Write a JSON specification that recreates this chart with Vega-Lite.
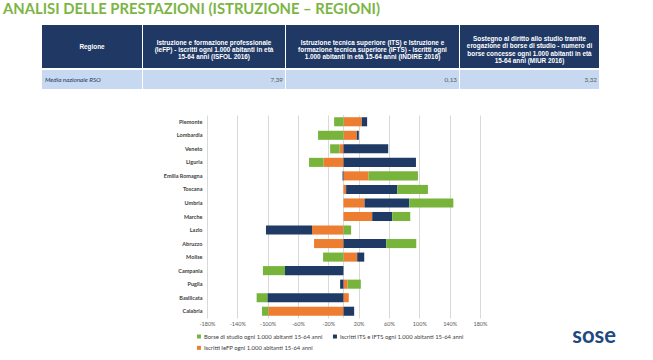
{
  "$schema": "https://vega.github.io/schema/vega-lite/v6.json",
  "background": "white",
  "padding": {"left": 3, "top": 2, "right": 0, "bottom": 0},
  "title": {"text": "ANALISI DELLE PRESTAZIONI (ISTRUZIONE – REGIONI)", "anchor": "start", "font": "Lato", "fontSize": 14.8, "fontWeight": "bold", "color": "#7cb544", "offset": 8},
  "config": {"view": {"stroke": null}, "font": "Lato", "concat": {"spacing": 1}},
  "spacing": 25,
  "vconcat": [
    {
      "spacing": 2,
      "vconcat": [
        {
          "spacing": 1,
          "hconcat": [
            {"width": 38, "height": 43, "data": {"values": []}, "mark": "point"},
            {"width": 100, "height": 43, "view": {"fill": "#1f3864", "stroke": null}, "data": {"values": [{"t": "Regione"}]}, "mark": {"type": "text", "font": "Liberation Sans", "color": "white", "fontWeight": "bold", "fontSize": 6.4, "baseline": "top", "dy": -3}, "encoding": {"text": {"field": "t"}}},
            {"width": 142, "height": 43, "view": {"fill": "#1f3864", "stroke": null}, "data": {"values": [{"t": "Istruzione e formazione professionale\n(IeFP) - iscritti ogni 1.000 abitanti in età\n15-64 anni (ISFOL 2016)"}]}, "mark": {"type": "text", "font": "Liberation Sans", "color": "white", "fontWeight": "bold", "fontSize": 6.4, "lineBreak": "\n", "lineHeight": 7.25, "baseline": "top", "dy": -6.8}, "encoding": {"text": {"field": "t"}}},
            {"width": 173, "height": 43, "view": {"fill": "#1f3864", "stroke": null}, "data": {"values": [{"t": "Istruzione tecnica superiore (ITS) e Istruzione e\nformazione tecnica superiore (IFTS) - iscritti ogni\n1.000 abitanti in età 15-64 anni (INDIRE 2016)"}]}, "mark": {"type": "text", "font": "Liberation Sans", "color": "white", "fontWeight": "bold", "fontSize": 6.4, "lineBreak": "\n", "lineHeight": 7.25, "baseline": "top", "dy": -6.8}, "encoding": {"text": {"field": "t"}}},
            {"width": 139, "height": 43, "view": {"fill": "#1f3864", "stroke": null}, "data": {"values": [{"t": "Sostegno al diritto allo studio tramite\nerogazione di borse di studio - numero di\nborse concesse ogni 1.000 abitanti in età\n15-64 anni (MIUR 2016)"}]}, "mark": {"type": "text", "font": "Liberation Sans", "color": "white", "fontWeight": "bold", "fontSize": 6.4, "lineBreak": "\n", "lineHeight": 7.25, "baseline": "top", "dy": -10.4}, "encoding": {"text": {"field": "t"}}}
          ]
        },
        {
          "spacing": 1,
          "hconcat": [
            {"width": 38, "height": 19, "data": {"values": []}, "mark": "point"},
            {"width": 100, "height": 19, "view": {"fill": "#c6d9f0", "stroke": null}, "data": {"values": [{"t": "Media nazionale RSO"}]}, "mark": {"type": "text", "color": "#1f3864", "fontStyle": "italic", "fontSize": 6.3, "align": "left", "x": 0, "dx": 3}, "encoding": {"text": {"field": "t"}}},
            {"width": 142, "height": 19, "view": {"fill": "#c6d9f0", "stroke": null}, "data": {"values": [{"t": "7,39"}]}, "mark": {"type": "text", "color": "#595959", "fontSize": 6.3, "align": "right", "x": "width", "dx": -2}, "encoding": {"text": {"field": "t"}}},
            {"width": 173, "height": 19, "view": {"fill": "#c6d9f0", "stroke": null}, "data": {"values": [{"t": "0,13"}]}, "mark": {"type": "text", "color": "#595959", "fontSize": 6.3, "align": "right", "x": "width", "dx": -2}, "encoding": {"text": {"field": "t"}}},
            {"width": 139, "height": 19, "view": {"fill": "#c6d9f0", "stroke": null}, "data": {"values": [{"t": "3,32"}]}, "mark": {"type": "text", "color": "#595959", "fontSize": 6.3, "align": "right", "x": "width", "dx": -2}, "encoding": {"text": {"field": "t"}}}
          ]
        }
      ]
    },
    {
      "width": 607,
      "height": 203,
      "title": {"text": "sose", "orient": "bottom", "anchor": "end", "font": "Lato", "fontSize": 22, "fontWeight": "bold", "color": "#1f4a7f", "offset": -1, "dx": 6},
      "data": {"values": [
        {"region": "Piemonte", "serie": "Iscritti IeFP ogni 1.000 abitanti 15-64 anni", "ord": 1, "value": 24.2},
        {"region": "Piemonte", "serie": "Iscritti ITS e IFTS ogni 1.000 abitanti 15-64 anni", "ord": 2, "value": 7.0},
        {"region": "Piemonte", "serie": "Borse di studio ogni 1.000 abitanti 15-64 anni", "ord": 3, "value": -12.3},
        {"region": "Lombardia", "serie": "Iscritti IeFP ogni 1.000 abitanti 15-64 anni", "ord": 1, "value": 17.6},
        {"region": "Lombardia", "serie": "Iscritti ITS e IFTS ogni 1.000 abitanti 15-64 anni", "ord": 2, "value": 2.6},
        {"region": "Lombardia", "serie": "Borse di studio ogni 1.000 abitanti 15-64 anni", "ord": 3, "value": -33.5},
        {"region": "Veneto", "serie": "Iscritti IeFP ogni 1.000 abitanti 15-64 anni", "ord": 1, "value": -5.3},
        {"region": "Veneto", "serie": "Iscritti ITS e IFTS ogni 1.000 abitanti 15-64 anni", "ord": 2, "value": 59.0},
        {"region": "Veneto", "serie": "Borse di studio ogni 1.000 abitanti 15-64 anni", "ord": 3, "value": -12.3},
        {"region": "Liguria", "serie": "Iscritti IeFP ogni 1.000 abitanti 15-64 anni", "ord": 1, "value": -26.4},
        {"region": "Liguria", "serie": "Iscritti ITS e IFTS ogni 1.000 abitanti 15-64 anni", "ord": 2, "value": 95.6},
        {"region": "Liguria", "serie": "Borse di studio ogni 1.000 abitanti 15-64 anni", "ord": 3, "value": -19.0},
        {"region": "Emilia Romagna", "serie": "Iscritti IeFP ogni 1.000 abitanti 15-64 anni", "ord": 1, "value": 33.0},
        {"region": "Emilia Romagna", "serie": "Iscritti ITS e IFTS ogni 1.000 abitanti 15-64 anni", "ord": 2, "value": -1.2},
        {"region": "Emilia Romagna", "serie": "Borse di studio ogni 1.000 abitanti 15-64 anni", "ord": 3, "value": 65.2},
        {"region": "Toscana", "serie": "Iscritti IeFP ogni 1.000 abitanti 15-64 anni", "ord": 1, "value": 3.5},
        {"region": "Toscana", "serie": "Iscritti ITS e IFTS ogni 1.000 abitanti 15-64 anni", "ord": 2, "value": 67.4},
        {"region": "Toscana", "serie": "Borse di studio ogni 1.000 abitanti 15-64 anni", "ord": 3, "value": 40.5},
        {"region": "Umbria", "serie": "Iscritti IeFP ogni 1.000 abitanti 15-64 anni", "ord": 1, "value": 27.8},
        {"region": "Umbria", "serie": "Iscritti ITS e IFTS ogni 1.000 abitanti 15-64 anni", "ord": 2, "value": 59.0},
        {"region": "Umbria", "serie": "Borse di studio ogni 1.000 abitanti 15-64 anni", "ord": 3, "value": 58.1},
        {"region": "Marche", "serie": "Iscritti IeFP ogni 1.000 abitanti 15-64 anni", "ord": 1, "value": 37.9},
        {"region": "Marche", "serie": "Iscritti ITS e IFTS ogni 1.000 abitanti 15-64 anni", "ord": 2, "value": 26.4},
        {"region": "Marche", "serie": "Borse di studio ogni 1.000 abitanti 15-64 anni", "ord": 3, "value": 23.8},
        {"region": "Lazio", "serie": "Iscritti IeFP ogni 1.000 abitanti 15-64 anni", "ord": 1, "value": -41.4},
        {"region": "Lazio", "serie": "Iscritti ITS e IFTS ogni 1.000 abitanti 15-64 anni", "ord": 2, "value": -60.8},
        {"region": "Lazio", "serie": "Borse di studio ogni 1.000 abitanti 15-64 anni", "ord": 3, "value": 10.1},
        {"region": "Abruzzo", "serie": "Iscritti IeFP ogni 1.000 abitanti 15-64 anni", "ord": 1, "value": -38.8},
        {"region": "Abruzzo", "serie": "Iscritti ITS e IFTS ogni 1.000 abitanti 15-64 anni", "ord": 2, "value": 56.4},
        {"region": "Abruzzo", "serie": "Borse di studio ogni 1.000 abitanti 15-64 anni", "ord": 3, "value": 39.6},
        {"region": "Molise", "serie": "Iscritti IeFP ogni 1.000 abitanti 15-64 anni", "ord": 1, "value": 18.1},
        {"region": "Molise", "serie": "Iscritti ITS e IFTS ogni 1.000 abitanti 15-64 anni", "ord": 2, "value": 9.3},
        {"region": "Molise", "serie": "Borse di studio ogni 1.000 abitanti 15-64 anni", "ord": 3, "value": -26.9},
        {"region": "Campania", "serie": "Iscritti IeFP ogni 1.000 abitanti 15-64 anni", "ord": 1, "value": 0},
        {"region": "Campania", "serie": "Iscritti ITS e IFTS ogni 1.000 abitanti 15-64 anni", "ord": 2, "value": -77.1},
        {"region": "Campania", "serie": "Borse di studio ogni 1.000 abitanti 15-64 anni", "ord": 3, "value": -29.1},
        {"region": "Puglia", "serie": "Iscritti IeFP ogni 1.000 abitanti 15-64 anni", "ord": 1, "value": 5.3},
        {"region": "Puglia", "serie": "Iscritti ITS e IFTS ogni 1.000 abitanti 15-64 anni", "ord": 2, "value": -4.4},
        {"region": "Puglia", "serie": "Borse di studio ogni 1.000 abitanti 15-64 anni", "ord": 3, "value": 17.6},
        {"region": "Basilicata", "serie": "Iscritti IeFP ogni 1.000 abitanti 15-64 anni", "ord": 1, "value": 7.0},
        {"region": "Basilicata", "serie": "Iscritti ITS e IFTS ogni 1.000 abitanti 15-64 anni", "ord": 2, "value": -100.4},
        {"region": "Basilicata", "serie": "Borse di studio ogni 1.000 abitanti 15-64 anni", "ord": 3, "value": -14.1},
        {"region": "Calabria", "serie": "Iscritti IeFP ogni 1.000 abitanti 15-64 anni", "ord": 1, "value": -99.1},
        {"region": "Calabria", "serie": "Iscritti ITS e IFTS ogni 1.000 abitanti 15-64 anni", "ord": 2, "value": 14.1},
        {"region": "Calabria", "serie": "Borse di studio ogni 1.000 abitanti 15-64 anni", "ord": 3, "value": -8.4}
      ]},
      "layer": [
        {
          "data": {"values": [{"z": 0}]},
          "mark": {"type": "rule", "color": "#d9d9d9", "strokeWidth": 1},
          "encoding": {"x": {"field": "z", "type": "quantitative"}}
        },
        {
          "mark": {"type": "bar"},
          "encoding": {
            "y": {"field": "region", "type": "nominal",
              "sort": ["Piemonte", "Lombardia", "Veneto", "Liguria", "Emilia Romagna", "Toscana", "Umbria", "Marche", "Lazio", "Abruzzo", "Molise", "Campania", "Puglia", "Basilicata", "Calabria"],
              "scale": {"paddingInner": 0.33, "paddingOuter": 0.165},
              "axis": {"title": null, "domain": false, "ticks": false, "offset": -204, "labelFont": "Lato", "labelFontSize": 5.5, "labelFontWeight": "bold", "labelColor": "#404040", "labelPadding": 5}},
            "x": {"field": "value", "type": "quantitative", "stack": "zero",
              "scale": {"domain": [-449, 351.5], "nice": false, "zero": false},
              "axis": {"values": [-180, -140, -100, -60, -20, 20, 60, 100, 140, 180], "labelExpr": "datum.value + '%'", "title": null, "domain": false, "ticks": false, "grid": true, "gridColor": "#d9d9d9", "labelFont": "Lato", "labelFontSize": 5.5, "labelColor": "#595959", "labelPadding": 3}},
            "color": {"field": "serie", "type": "nominal",
              "scale": {"domain": ["Borse di studio ogni 1.000 abitanti 15-64 anni", "Iscritti ITS e IFTS ogni 1.000 abitanti 15-64 anni", "Iscritti IeFP ogni 1.000 abitanti 15-64 anni"], "range": ["#78b43c", "#1f3a64", "#ed7d31"]},
              "legend": {"orient": "none", "legendX": 193, "legendY": 308.5, "direction": "horizontal", "columns": 2, "title": null, "symbolType": "square", "symbolSize": 16, "symbolStrokeWidth": 0, "labelFont": "Lato", "labelFontSize": 5.9, "labelColor": "#404040", "rowPadding": 4.4, "columnPadding": 9, "labelOffset": 2, "padding": 0, "labelLimit": 300}},
            "order": {"field": "ord", "type": "quantitative"}
          }
        }
      ]
    }
  ]
}
